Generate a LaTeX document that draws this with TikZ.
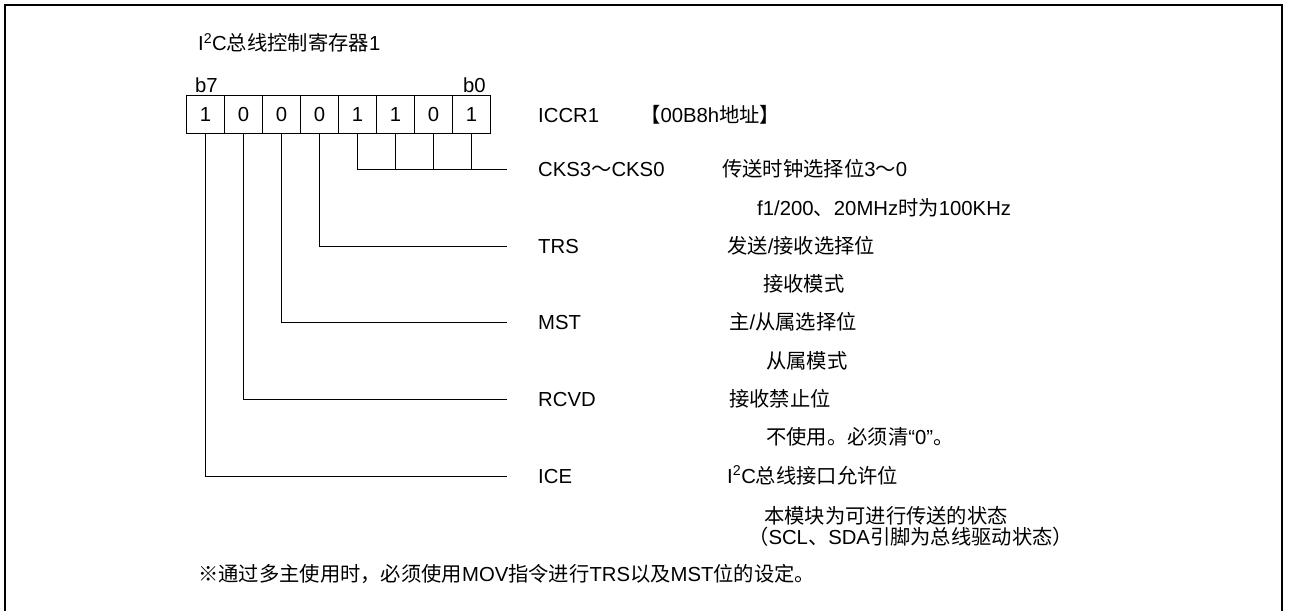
\documentclass[tikz,border=0pt]{standalone}
\usepackage{fontspec}
\setmainfont{Liberation Sans}
\newfontfamily\cjk{Noto Sans CJK SC}
\begin{document}
\begin{tikzpicture}[x=1pt,y=-1pt,
  txt/.style={anchor=base west,inner sep=0pt,font=\fontsize{20.3}{24}\selectfont},
  cell/.style={draw,line width=1pt,minimum width=38pt,minimum height=38pt,inner sep=0pt,anchor=north west,font=\fontsize{20.3}{24}\selectfont},
  lead/.style={line width=1pt},
  frame/.style={line width=2.6pt}]
\useasboundingbox (0,0) rectangle (1289,610);
\draw[frame] (5,615) -- (5,5) -- (1282,5) -- (1282,615);
% title
\node[txt] (title) at (198,51) {I\textsuperscript{2}C{\cjk 总线控制寄存器}1};
% register
\foreach \i/\v [count=\k from 0] in {7/1,6/0,5/0,4/0,3/1,2/1,1/0,0/1}
  \node[cell] (c\i) at (186+38*\k,95) {\v};
\node[txt] (b7) at (195,92) {b7};
\node[txt] (b0) at (463,92) {b0};
\node[txt] (iccr) at (538,122) {ICCR1};
\node[txt] (addr) at (640,122) {{\cjk 【}00B8h{\cjk 地址】}};
% end points of leads
\coordinate (eCKS) at (507,169);
\coordinate (eTRS) at (507,246);
\coordinate (eMST) at (507,322);
\coordinate (eRCVD) at (507,399);
\coordinate (eICE) at (507,476);
\draw[lead] (c3.south) |- (eCKS);
\foreach \i in {2,1,0} \draw[lead] (c\i.south) -- (c\i.south |- eCKS);
\draw[lead] (c4.south) |- (eTRS);
\draw[lead] (c5.south) |- (eMST);
\draw[lead] (c6.south) |- (eRCVD);
\draw[lead] (c7.south) |- (eICE);
% labels
\node[txt] (lCKS) at (538,176) {CKS3{\cjk ～}CKS0};
\node[txt] (lTRS) at (538,253) {TRS};
\node[txt] (lMST) at (538,329) {MST};
\node[txt] (lRCVD) at (538,406) {RCVD};
\node[txt] (lICE) at (538,483) {ICE};
% descriptions
\node[txt] (dCKS) at (722,176) {{\cjk 传送时钟选择位}3{\cjk ～}0};
\node[txt] (sCKS) at (757,215) {f1/200{\cjk 、}20MHz{\cjk 时为}100KHz};
\node[txt] (dTRS) at (727,253) {{\cjk 发送}/{\cjk 接收选择位}};
\node[txt] (sTRS) at (763,291) {\cjk 接收模式};
\node[txt] (dMST) at (729,329) {{\cjk 主}/{\cjk 从属选择位}};
\node[txt] (sMST) at (766,368) {\cjk 从属模式};
\node[txt] (dRCVD) at (729,406) {\cjk 接收禁止位};
\node[txt] (sRCVD) at (766,444) {{\cjk 不使用。必须清}“0”{\cjk 。}};
\node[txt] (dICE) at (727,483) {I\textsuperscript{2}C{\cjk 总线接口允许位}};
\node[txt] (sICE1) at (764,523) {\cjk 本模块为可进行传送的状态};
\node[txt] (sICE2) at (748,544) {{\cjk （}SCL{\cjk 、}SDA{\cjk 引脚为总线驱动状态）}};
% note
\node[txt] (note) at (198,581) {{\cjk ※通过多主使用时，必须使用}MOV{\cjk 指令进行}TRS{\cjk 以及}MST{\cjk 位的设定。}};
\end{tikzpicture}
\end{document}
